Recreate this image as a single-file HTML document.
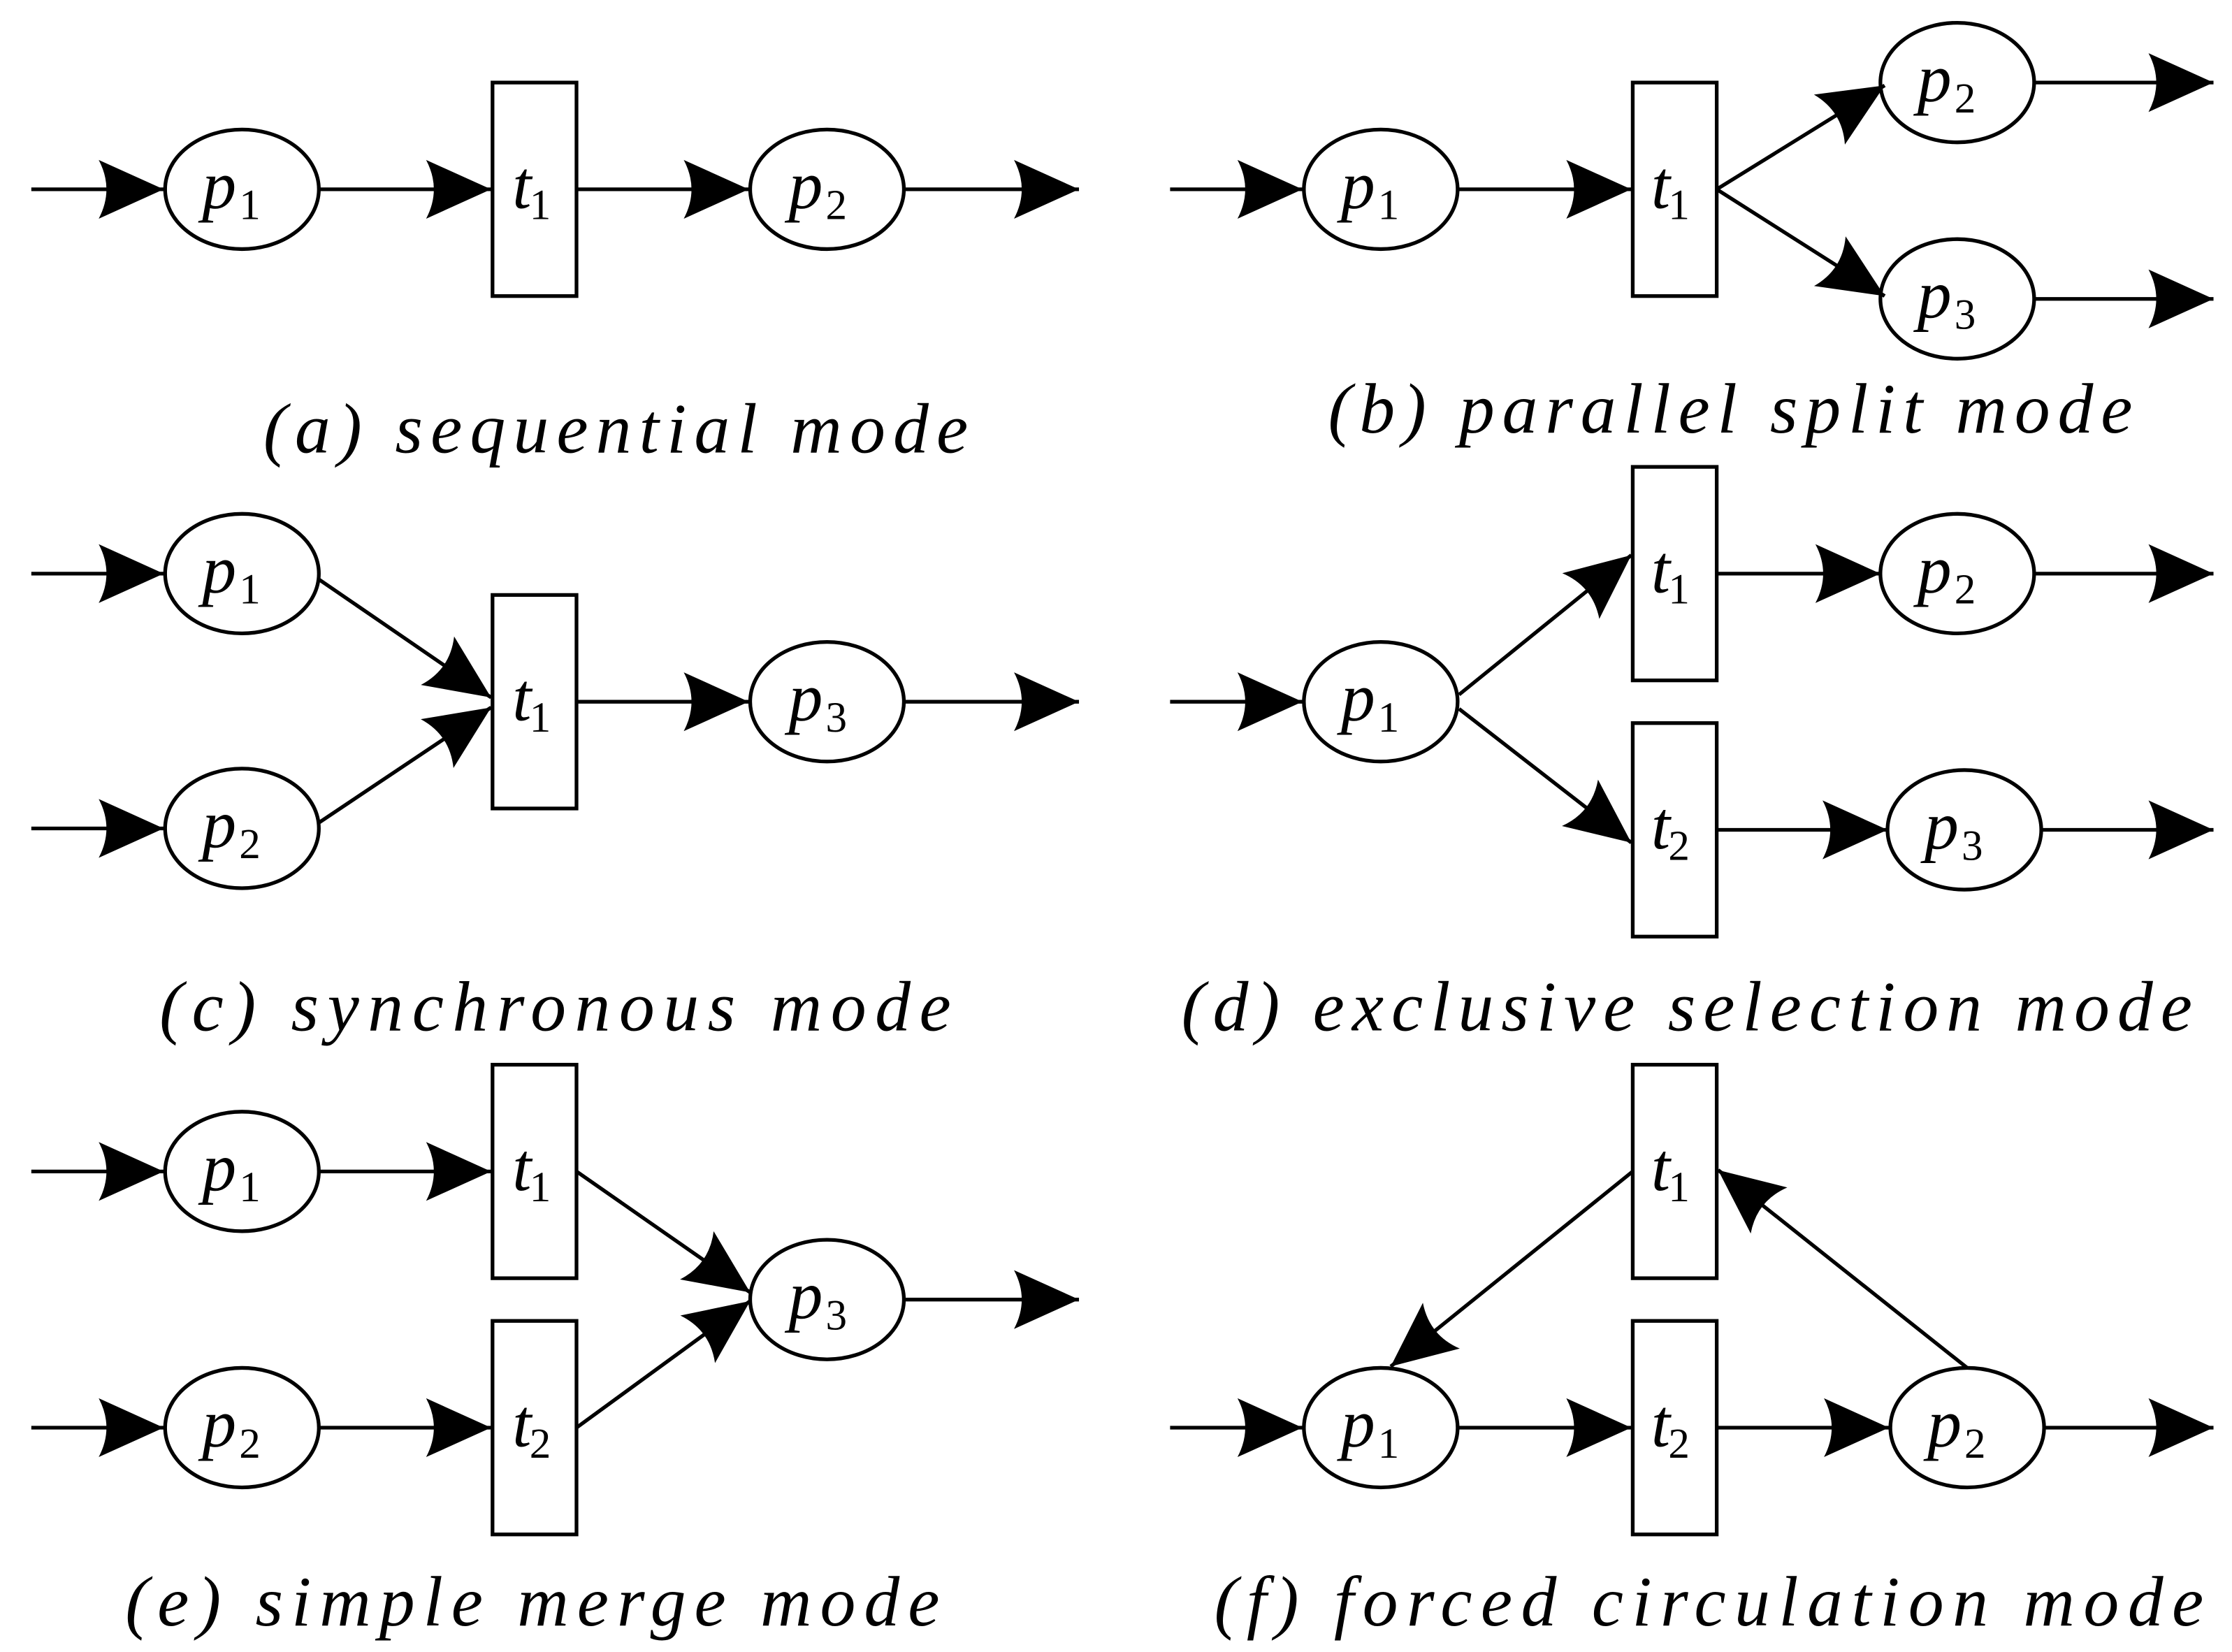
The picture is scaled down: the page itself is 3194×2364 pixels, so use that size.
<!DOCTYPE html>
<html><head><meta charset="utf-8"><style>html,body{margin:0;padding:0;background:#fff}svg{display:block}text{font-family:"Liberation Serif",serif}</style></head>
<body>
<svg width="3194" height="2364" viewBox="0 0 1568 1160.6" preserveAspectRatio="none" xmlns="http://www.w3.org/2000/svg">
<defs>
<marker id="a" markerUnits="userSpaceOnUse" markerWidth="50" markerHeight="50" viewBox="-44 -22 46 44" refX="0" refY="0" orient="auto">
<path d="M0,0 L-42,-19 Q-32,0 -42,19 Z" fill="#000"/>
</marker>
</defs>
<g stroke="#000" stroke-width="2.6" fill="none">
<!-- a -->
<line x1="22" y1="133" x2="115" y2="133" marker-end="url(#a)"/>
<ellipse cx="170" cy="133" rx="54" ry="42"/>
<line x1="224" y1="133" x2="345" y2="133" marker-end="url(#a)"/>
<rect x="346" y="58" width="59" height="150"/>
<line x1="405" y1="133" x2="526" y2="133" marker-end="url(#a)"/>
<ellipse cx="581" cy="133" rx="54" ry="42"/>
<line x1="636" y1="133" x2="758" y2="133" marker-end="url(#a)"/>
<!-- b -->
<line x1="822" y1="133" x2="915" y2="133" marker-end="url(#a)"/>
<ellipse cx="970" cy="133" rx="54" ry="42"/>
<line x1="1025" y1="133" x2="1146" y2="133" marker-end="url(#a)"/>
<rect x="1147" y="58" width="59" height="150"/>
<line x1="1206" y1="133" x2="1324" y2="60" marker-end="url(#a)"/>
<line x1="1206" y1="133" x2="1324" y2="208" marker-end="url(#a)"/>
<ellipse cx="1375" cy="58" rx="54" ry="42"/>
<ellipse cx="1375" cy="210" rx="54" ry="42"/>
<line x1="1430" y1="58" x2="1555" y2="58" marker-end="url(#a)"/>
<line x1="1430" y1="210" x2="1555" y2="210" marker-end="url(#a)"/>
<!-- c -->
<line x1="22" y1="403" x2="115" y2="403" marker-end="url(#a)"/>
<line x1="22" y1="582" x2="115" y2="582" marker-end="url(#a)"/>
<ellipse cx="170" cy="403" rx="54" ry="42"/>
<ellipse cx="170" cy="582" rx="54" ry="42"/>
<line x1="224" y1="407" x2="345" y2="490" marker-end="url(#a)"/>
<line x1="224" y1="578" x2="345" y2="497" marker-end="url(#a)"/>
<rect x="346" y="418" width="59" height="150"/>
<line x1="405" y1="493" x2="526" y2="493" marker-end="url(#a)"/>
<ellipse cx="581" cy="493" rx="54" ry="42"/>
<line x1="636" y1="493" x2="758" y2="493" marker-end="url(#a)"/>
<!-- d -->
<line x1="822" y1="493" x2="915" y2="493" marker-end="url(#a)"/>
<ellipse cx="970" cy="493" rx="54" ry="42"/>
<line x1="1025" y1="488" x2="1146" y2="390" marker-end="url(#a)"/>
<line x1="1025" y1="498" x2="1146" y2="592" marker-end="url(#a)"/>
<rect x="1147" y="328" width="59" height="150"/>
<rect x="1147" y="508" width="59" height="150"/>
<line x1="1206" y1="403" x2="1321" y2="403" marker-end="url(#a)"/>
<line x1="1206" y1="583" x2="1326" y2="583" marker-end="url(#a)"/>
<ellipse cx="1375" cy="403" rx="54" ry="42"/>
<ellipse cx="1380" cy="583" rx="54" ry="42"/>
<line x1="1430" y1="403" x2="1555" y2="403" marker-end="url(#a)"/>
<line x1="1434" y1="583" x2="1555" y2="583" marker-end="url(#a)"/>
<!-- e -->
<line x1="22" y1="823" x2="115" y2="823" marker-end="url(#a)"/>
<line x1="22" y1="1003" x2="115" y2="1003" marker-end="url(#a)"/>
<ellipse cx="170" cy="823" rx="54" ry="42"/>
<ellipse cx="170" cy="1003" rx="54" ry="42"/>
<line x1="224" y1="823" x2="345" y2="823" marker-end="url(#a)"/>
<line x1="224" y1="1003" x2="345" y2="1003" marker-end="url(#a)"/>
<rect x="346" y="748" width="59" height="150"/>
<rect x="346" y="928" width="59" height="150"/>
<line x1="405" y1="823" x2="527" y2="908" marker-end="url(#a)"/>
<line x1="405" y1="1003" x2="527" y2="914" marker-end="url(#a)"/>
<ellipse cx="581" cy="913" rx="54" ry="42"/>
<line x1="636" y1="913" x2="758" y2="913" marker-end="url(#a)"/>
<!-- f -->
<rect x="1147" y="748" width="59" height="150"/>
<rect x="1147" y="928" width="59" height="150"/>
<line x1="822" y1="1003" x2="915" y2="1003" marker-end="url(#a)"/>
<ellipse cx="970" cy="1003" rx="54" ry="42"/>
<line x1="1025" y1="1003" x2="1146" y2="1003" marker-end="url(#a)"/>
<line x1="1206" y1="1003" x2="1327" y2="1003" marker-end="url(#a)"/>
<ellipse cx="1382" cy="1003" rx="54" ry="42"/>
<line x1="1436" y1="1003" x2="1555" y2="1003" marker-end="url(#a)"/>
<line x1="1382" y1="961" x2="1207" y2="822" marker-end="url(#a)"/>
<line x1="1147" y1="823" x2="977" y2="960" marker-end="url(#a)"/>
</g>
<g fill="#000">
<g font-size="48" font-style="italic">
<text x="142" y="146">p</text><text x="554" y="146">p</text>
<text x="942" y="146">p</text><text x="1347" y="71">p</text><text x="1347" y="223">p</text>
<text x="142" y="416">p</text><text x="142" y="595">p</text><text x="554" y="506">p</text>
<text x="942" y="506">p</text><text x="1347" y="416">p</text><text x="1352" y="596">p</text>
<text x="142" y="836">p</text><text x="142" y="1016">p</text><text x="554" y="926">p</text>
<text x="942" y="1016">p</text><text x="1354" y="1016">p</text>
<text x="360" y="146">t</text><text x="1160" y="146">t</text>
<text x="360" y="506">t</text><text x="1160" y="416">t</text><text x="1160" y="596">t</text>
<text x="360" y="836">t</text><text x="360" y="1016">t</text>
<text x="1160" y="836">t</text><text x="1160" y="1016">t</text>
</g>
<g font-size="30">
<text x="168" y="154">1</text><text x="580" y="154">2</text>
<text x="968" y="154">1</text><text x="1373" y="79">2</text><text x="1373" y="231">3</text>
<text x="168" y="424">1</text><text x="168" y="603">2</text><text x="580" y="514">3</text>
<text x="968" y="514">1</text><text x="1373" y="424">2</text><text x="1378" y="604">3</text>
<text x="168" y="844">1</text><text x="168" y="1024">2</text><text x="580" y="934">3</text>
<text x="968" y="1024">1</text><text x="1380" y="1024">2</text>
<text x="372" y="154">1</text><text x="1172" y="154">1</text>
<text x="372" y="514">1</text><text x="1172" y="424">1</text><text x="1172" y="604">2</text>
<text x="372" y="844">1</text><text x="372" y="1024">2</text>
<text x="1172" y="844">1</text><text x="1172" y="1024">2</text>
</g>
<g font-size="50" font-style="italic">
<text x="185" y="318" textLength="495" lengthAdjust="spacing">(a) sequential mode</text>
<text x="933" y="304" textLength="565" lengthAdjust="spacing">(b) parallel split mode</text>
<text x="112" y="724" textLength="556" lengthAdjust="spacing">(c) synchronous mode</text>
<text x="830" y="724" textLength="710" lengthAdjust="spacing">(d) exclusive selection mode</text>
<text x="88" y="1142" textLength="572" lengthAdjust="spacing">(e) simple merge mode</text>
<text x="853" y="1142" textLength="695" lengthAdjust="spacing">(f) forced circulation mode</text>
</g>
</g>
</svg>
</body></html>
